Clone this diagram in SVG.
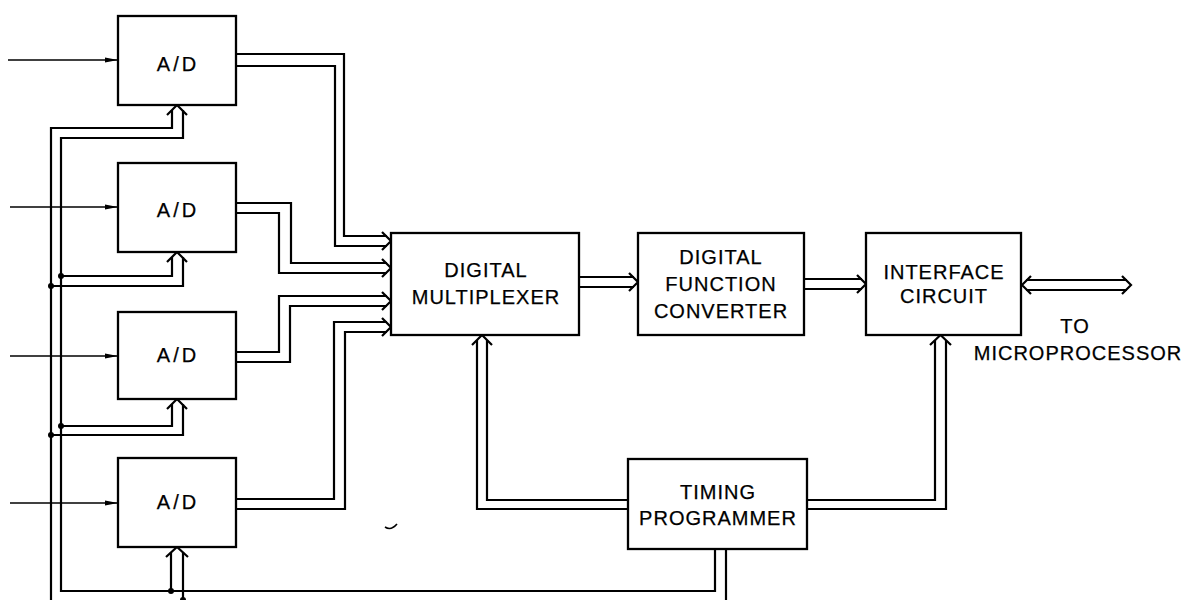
<svg xmlns="http://www.w3.org/2000/svg" width="1184" height="600" viewBox="0 0 1184 600">
  <style>
    .box { fill: #fff; stroke: #000; stroke-width: 2.3; }
    .w { fill: none; stroke: #000; stroke-width: 2.2; stroke-linejoin: miter; }
    .thin { fill: none; stroke: #000; stroke-width: 1.6; }
    .head { fill: none; stroke: #000; stroke-width: 2.2; stroke-linejoin: miter; }
    .dot { fill: #000; }
    .lbl { font-family: "Liberation Sans", Arial, Helvetica, sans-serif; font-size: 20px; letter-spacing: 1px; fill: #000; stroke: #000; stroke-width: 0.25; text-anchor: middle; }
    .ad { letter-spacing: 3px; }
  </style>
  <defs>
    <marker id="inArrow" viewBox="0 0 13 6" refX="13" refY="3" markerWidth="13" markerHeight="6" markerUnits="userSpaceOnUse" orient="auto">
      <path d="M0,0.5 L13,3 L0,5.5 Z" fill="#000"/>
    </marker>
  </defs>
  <rect width="1184" height="600" fill="#fff"/>

  <!-- wiring -->
  <g id="connectors">
    <!-- analog inputs -->
    <line class="thin" x1="8" y1="60" x2="118" y2="60" marker-end="url(#inArrow)"/>
    <line class="thin" x1="10" y1="207" x2="118" y2="207" marker-end="url(#inArrow)"/>
    <line class="thin" x1="10" y1="356" x2="118" y2="356" marker-end="url(#inArrow)"/>
    <line class="thin" x1="10" y1="503" x2="118" y2="503" marker-end="url(#inArrow)"/>

    <!-- A/D 1 output bus -->
    <polyline class="w" points="236,54 344,54 344,236 387,236"/>
    <polyline class="w" points="236,66 335,66 335,246 387,246"/>
    <polyline class="head" points="382,232 391,241 382,250"/>
    <!-- A/D 2 output bus -->
    <polyline class="w" points="236,203 291,203 291,263 387,263"/>
    <polyline class="w" points="236,213 279,213 279,273 387,273"/>
    <polyline class="head" points="382,259 391,268 382,277"/>
    <!-- A/D 3 output bus -->
    <polyline class="w" points="236,352 279,352 279,296 387,296"/>
    <polyline class="w" points="236,362 290,362 290,306 387,306"/>
    <polyline class="head" points="382,292 391,301 382,310"/>
    <!-- A/D 4 output bus -->
    <polyline class="w" points="236,499 334,499 334,322 387,322"/>
    <polyline class="w" points="236,509 345,509 345,332 387,332"/>
    <polyline class="head" points="382,318 391,327 382,336"/>

    <!-- multiplexer to function converter -->
    <line class="w" x1="579" y1="277" x2="634" y2="277"/>
    <line class="w" x1="579" y1="287" x2="634" y2="287"/>
    <polyline class="head" points="629,273 638,282 629,291"/>
    <!-- function converter to interface -->
    <line class="w" x1="804" y1="279" x2="862" y2="279"/>
    <line class="w" x1="804" y1="289" x2="862" y2="289"/>
    <polyline class="head" points="857,275 866,284 857,293"/>
    <!-- interface <-> microprocessor -->
    <line class="w" x1="1026" y1="280" x2="1127" y2="280"/>
    <line class="w" x1="1026" y1="290" x2="1127" y2="290"/>
    <polyline class="head" points="1031,276 1022,285 1031,294"/>
    <polyline class="head" points="1122,276 1131,285 1122,294"/>

    <!-- timing programmer to multiplexer -->
    <polyline class="w" points="628,500 487,500 487,340"/>
    <polyline class="w" points="628,509 477,509 477,340"/>
    <polyline class="head" points="472,345 482,335 492,345"/>
    <!-- timing programmer to interface -->
    <polyline class="w" points="807,500 935,500 935,340"/>
    <polyline class="w" points="807,509 946,509 946,340"/>
    <polyline class="head" points="930,345 940.5,335 951,345"/>

    <!-- control bus to the converters -->
    <polyline class="w" points="172,110 172,128 51,128 51,602"/>
    <polyline class="w" points="183,110 183,138 61,138 61,591 715,591 715,549"/>
    <line class="w" x1="726" y1="549" x2="726" y2="602"/>
    <polyline class="head" points="167,115 177,105 187,115"/>

    <polyline class="w" points="172,257 172,276 61,276"/>
    <polyline class="w" points="183,257 183,286 51,286"/>
    <polyline class="head" points="167,262 177,252 187,262"/>

    <polyline class="w" points="172,404 172,426 61,426"/>
    <polyline class="w" points="183,404 183,435 51,435"/>
    <polyline class="head" points="167,409 177,399 187,409"/>

    <line class="w" x1="171" y1="552" x2="171" y2="591"/>
    <line class="w" x1="183" y1="552" x2="183" y2="602"/>
    <polyline class="head" points="166,557 177,547 188,557"/>

    <circle class="dot" cx="61" cy="276" r="3"/>
    <circle class="dot" cx="51" cy="286" r="3"/>
    <circle class="dot" cx="61" cy="426" r="3"/>
    <circle class="dot" cx="51" cy="435" r="3"/>
    <circle class="dot" cx="171" cy="591" r="3"/>
    <circle class="dot" cx="183" cy="600" r="3"/>
  </g>

  <g id="ad1">
    <rect class="box" x="118" y="16" width="118" height="89"/>
    <text class="lbl ad" x="178" y="71">A/D</text>
  </g>
  <g id="ad2">
    <rect class="box" x="118" y="163" width="118" height="89"/>
    <text class="lbl ad" x="178" y="217">A/D</text>
  </g>
  <g id="ad3">
    <rect class="box" x="118" y="312" width="118" height="87"/>
    <text class="lbl ad" x="178" y="362">A/D</text>
  </g>
  <g id="ad4">
    <rect class="box" x="118" y="458" width="118" height="89"/>
    <text class="lbl ad" x="178" y="509">A/D</text>
  </g>

  <g id="mux">
    <rect class="box" x="391" y="233" width="188" height="102"/>
    <text class="lbl" x="486" y="277">DIGITAL</text>
    <text class="lbl" x="486" y="304">MULTIPLEXER</text>
  </g>
  <g id="dfc">
    <rect class="box" x="638" y="233" width="166" height="102"/>
    <text class="lbl" x="721" y="264">DIGITAL</text>
    <text class="lbl" x="721" y="291">FUNCTION</text>
    <text class="lbl" x="721" y="318">CONVERTER</text>
  </g>
  <g id="iface">
    <rect class="box" x="866" y="233" width="155" height="102"/>
    <text class="lbl" x="944" y="279">INTERFACE</text>
    <text class="lbl" x="944" y="303">CIRCUIT</text>
  </g>
  <g id="timing">
    <rect class="box" x="628" y="459" width="179" height="90"/>
    <text class="lbl" x="718" y="499">TIMING</text>
    <text class="lbl" x="718" y="525">PROGRAMMER</text>
  </g>

  <g id="micro-label">
    <text class="lbl" x="1075" y="333">TO</text>
    <text class="lbl" x="1078" y="360">MICROPROCESSOR</text>
  </g>

  <!-- small stray tick below the output buses -->
  <path class="thin" d="M385,527 Q391,531 397,524"/>
</svg>
